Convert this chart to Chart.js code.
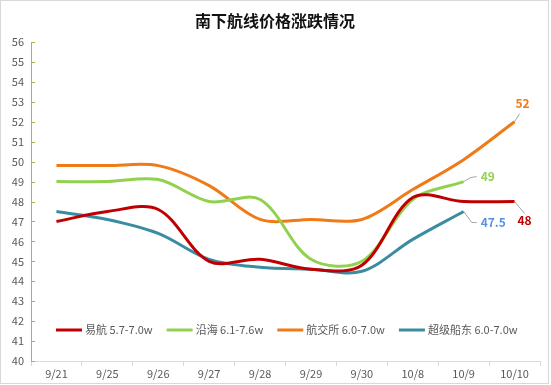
<!DOCTYPE html>
<html>
<head>
<meta charset="utf-8">
<script src="https://cdn.jsdelivr.net/npm/chart.js@4.4.1/dist/chart.umd.min.js"></script>
<style>
  html, body { margin: 0; padding: 0; background: #ffffff; }
  canvas { display: block; }
</style>
</head>
<body>
<canvas id="c" width="551" height="385"></canvas>
<script>
// ---- data ----
const categories = ['9/21', '9/25', '9/26', '9/27', '9/28', '9/29', '9/30', '10/8', '10/9', '10/10'];
const seriesNames = ['易航 5.7-7.0w', '沿海 6.1-7.6w', '航交所 6.0-7.0w', '超级船东 6.0-7.0w'];
const yihang      = [47, 47.5, 47.6, 45, 45.1, 44.6, 44.8, 48.2, 48, 48];
const yanhai      = [49, 49, 49.1, 48, 48.1, 45.1, 45, 48.1, 49];
const hangjiaosuo = [49.8, 49.8, 49.8, 48.8, 47.1, 47.1, 47.1, 48.6, 50.1, 52];
const chaoji      = [47.5, 47.1, 46.4, 45.1, 44.7, 44.6, 44.5, 46.1, 47.5];
const endLabels   = ['48', '49', '52', '47.5'];
const yMin = 40, yMax = 56, yStep = 1;
const titleText = '南下航线价格涨跌情况';

// ---- styles ----
const lineColors  = ['#C00000', '#92D050', '#F07A16', '#3A8CA0'];
const labelColors = ['#C00000', '#92D050', '#F07A16', '#5B8FE0'];
const FONT = '"Noto Sans CJK SC", "Open Sans", sans-serif';
const labelGeom = [
  { path: [[0, 0], [10, 12]], tx: 10, ty: 19, align: 'center' },
  { path: [[0, 0], [7, -4], [13, -5]], tx: 17, ty: -5, align: 'left' },
  { path: [[0, 0], [5, -8]], tx: 8, ty: -18, align: 'center' },
  { path: [[0, 0], [8, 11], [13, 11]], tx: 17, ty: 11, align: 'left' }
];

const seriesData = [yihang, yanhai, hangjiaosuo, chaoji];

const decor = {
  id: 'decor',
  beforeDraw(chart) {
    const ctx = chart.ctx;
    ctx.save();
    ctx.fillStyle = '#ffffff';
    ctx.fillRect(0, 0, chart.width, chart.height);
    ctx.restore();
  },
  afterDraw(chart) {
    const ctx = chart.ctx;
    const ca = chart.chartArea;
    const ys = chart.scales.y;
    ctx.save();
    ctx.strokeStyle = '#D9D9D9';
    ctx.lineWidth = 1;
    ctx.strokeRect(0.5, 0.5, 548, 383);
    ctx.fillStyle = '#111111';
    ctx.font = 'bold 16px ' + FONT;
    ctx.textAlign = 'center';
    ctx.textBaseline = 'middle';
    ctx.fillText(titleText, 275, 21);
    ctx.strokeStyle = '#9BBB59';
    ctx.lineWidth = 1;
    for (let v = yMin; v <= yMax; v += yStep) {
      const y = Math.round(ys.getPixelForValue(v)) + 0.5;
      ctx.beginPath();
      ctx.moveTo(ca.left, y);
      ctx.lineTo(ca.left + 4, y);
      ctx.stroke();
    }
    ctx.font = '11px ' + FONT;
    ctx.textAlign = 'left';
    ctx.textBaseline = 'middle';
    let lx = ca.left + 25;
    const ly = ca.bottom - 31;
    chart.data.datasets.forEach((ds, i) => {
      ctx.strokeStyle = ds.borderColor;
      ctx.lineWidth = 3;
      ctx.beginPath();
      ctx.moveTo(lx, ly);
      ctx.lineTo(lx + 26, ly);
      ctx.stroke();
      ctx.fillStyle = '#595959';
      ctx.fillText(ds.label, lx + 29, ly);
      lx += 29 + ctx.measureText(ds.label).width + 14;
    });
    chart.data.datasets.forEach((ds, i) => {
      const meta = chart.getDatasetMeta(i);
      const pt = meta.data[meta.data.length - 1];
      const g = labelGeom[i];
      ctx.strokeStyle = '#A6A6A6';
      ctx.lineWidth = 1;
      ctx.beginPath();
      g.path.forEach((p, k) => {
        const x = pt.x + p[0], y = pt.y + p[1];
        if (k === 0) ctx.moveTo(x, y); else ctx.lineTo(x, y);
      });
      ctx.stroke();
      ctx.fillStyle = labelColors[i];
      ctx.font = 'bold 12px ' + FONT;
      ctx.textAlign = g.align;
      ctx.textBaseline = 'middle';
      ctx.fillText(endLabels[i], pt.x + g.tx, pt.y + g.ty);
    });
    ctx.restore();
  }
};

new Chart(document.getElementById('c'), {
  type: 'line',
  data: {
    labels: categories,
    datasets: seriesData.map((d, i) => ({
      label: seriesNames[i],
      data: d,
      borderColor: lineColors[i],
      backgroundColor: lineColors[i],
      borderWidth: 3,
      pointRadius: 0,
      pointHoverRadius: 0,
      tension: 0.33,
      fill: false
    }))
  },
  options: {
    responsive: false,
    animation: false,
    devicePixelRatio: 1,
    layout: { padding: { left: 0, top: 42, right: 11, bottom: 0 } },
    plugins: {
      legend: { display: false },
      title: { display: false },
      tooltip: { enabled: false }
    },
    scales: {
      x: {
        offset: true,
        grid: {
          offset: true,
          drawOnChartArea: false,
          drawTicks: true,
          tickLength: 5,
          color: '#D9D9D9'
        },
        border: { color: '#D9D9D9', width: 1 },
        ticks: {
          color: '#595959',
          font: { size: 11, family: FONT },
          padding: 1,
          maxRotation: 0,
          autoSkip: false
        },
        afterFit(s) { s.height = 24; }
      },
      y: {
        min: yMin,
        max: yMax,
        grid: { drawOnChartArea: false, drawTicks: false },
        border: { color: '#9BBB59', width: 1 },
        ticks: {
          stepSize: yStep,
          color: '#595959',
          font: { size: 11, family: FONT },
          padding: 7
        },
        afterFit(s) { s.width = 31; }
      }
    }
  },
  plugins: [decor]
});
</script>
</body>
</html>
